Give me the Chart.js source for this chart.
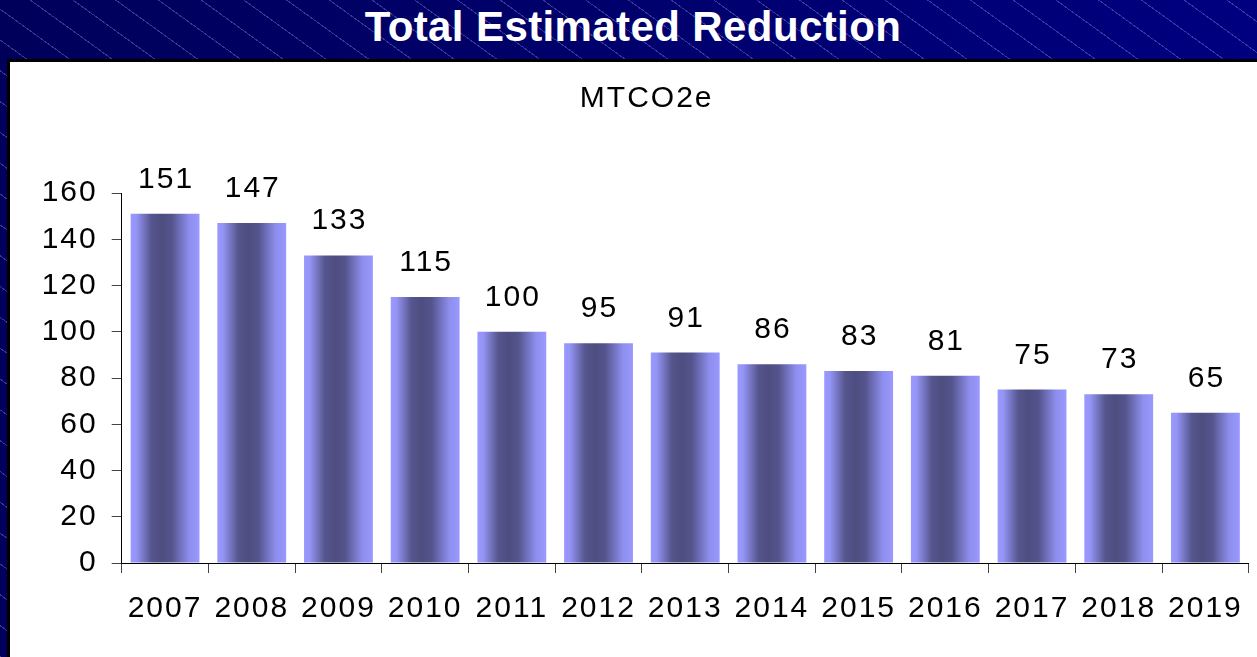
<!DOCTYPE html>
<html>
<head>
<meta charset="utf-8">
<script src="https://cdn.jsdelivr.net/npm/chart.js@4.4.1/dist/chart.umd.min.js"></script>
<style>
  html, body {
    margin: 0;
    padding: 0;
    width: 1257px;
    height: 657px;
    overflow: hidden;
  }
  body {
    position: relative;
    background-color: #000070;
    background-image:
      repeating-linear-gradient(35.8deg, rgba(110, 110, 200, 0.5) 0 1px, transparent 1px 25px),
      linear-gradient(90deg, #00005a, #000080);
    font-family: "Liberation Sans", Arial, sans-serif;
  }
  .main-title {
    position: absolute;
    left: 0;
    top: 4px;
    width: 1266px;
    text-align: center;
    color: #fff;
    font-weight: bold;
    font-size: 42px;
    line-height: 46px;
    letter-spacing: 0.4px;
  }
  .panel {
    position: absolute;
    left: 7px;
    top: 59px;
    width: 1250px;
    height: 598px;
    background: #fff;
    border-left: 3px solid #000;
    border-top: 3px solid #000;
    box-sizing: border-box;
  }
  .panel canvas {
    position: absolute;
    left: 0;
    top: 0;
  }
</style>
</head>
<body>
<div class="main-title">Total Estimated Reduction</div>
<div class="panel">
  <canvas class="reduction-chart" width="1247" height="595"></canvas>
</div>
<script>
const years = ["2007", "2008", "2009", "2010", "2011", "2012", "2013", "2014", "2015", "2016", "2017", "2018", "2019"];
const reduction = [151, 147, 133, 115, 100, 95, 91, 86, 83, 81, 75, 73, 65];
const yMin = 0;
const yMax = 160;
const yStep = 20;

const BAR_PCT = 0.794;
const FONT = '"Liberation Sans", Arial, sans-serif';

// horizontal shading across each bar, like the old office cylinder look
function barFill(ctx) {
  const chart = ctx.chart;
  const xs = chart.scales.x;
  if (!chart.chartArea || !xs) return "#7777cc";
  const cx = xs.getPixelForValue(ctx.dataIndex);
  const w = (xs.width / years.length) * BAR_PCT;
  const g = chart.ctx.createLinearGradient(cx - w / 2, 0, cx + w / 2, 0);
  g.addColorStop(0, "#9999ff");
  g.addColorStop(0.08, "#9595f6");
  g.addColorStop(0.3, "#56568f");
  g.addColorStop(0.45, "#4d4d80");
  g.addColorStop(0.6, "#55558e");
  g.addColorStop(0.85, "#8e8eee");
  g.addColorStop(1, "#9999ff");
  return g;
}

// the slide text is a bit wider than plain Arial, spread it a little
const wideText = {
  id: "wideText",
  beforeDraw(chart) {
    chart.ctx.letterSpacing = "2px";
  },
};

const valueLabels = {
  id: "valueLabels",
  afterDatasetsDraw(chart) {
    const c = chart.ctx;
    const meta = chart.getDatasetMeta(0);
    c.save();
    c.font = "30px " + FONT;
    c.letterSpacing = "2px";
    c.fillStyle = "#000";
    c.textAlign = "center";
    c.textBaseline = "alphabetic";
    meta.data.forEach((bar, i) => {
      c.fillText(String(reduction[i]), bar.x + 1, bar.y - 26);
    });
    c.restore();
  },
};

const reductionElem = document.querySelector(".reduction-chart").getContext("2d");

const config = {
  type: "bar",
  data: {
    labels: years,
    datasets: [
      {
        label: "MTCO2e",
        data: reduction,
        backgroundColor: barFill,
        borderWidth: 0,
        barPercentage: BAR_PCT,
        categoryPercentage: 1,
      },
    ],
  },
  options: {
    responsive: false,
    animation: false,
    layout: {
      padding: { left: 31.7, right: 5.3, top: 0, bottom: 0 },
    },
    scales: {
      x: {
        offset: true,
        grid: {
          drawOnChartArea: false,
          drawTicks: true,
          tickLength: 10,
          tickColor: "#444",
          offset: true,
        },
        border: { color: "#000", width: 1 },
        ticks: {
          color: "#000",
          font: { family: FONT, size: 30 },
          padding: 18,
          maxRotation: 0,
          autoSkip: false,
        },
        afterFit(scale) {
          scale.height = 94;
        },
      },
      y: {
        min: yMin,
        max: yMax,
        grid: {
          drawOnChartArea: false,
          drawTicks: true,
          tickLength: 10,
          tickColor: "#444",
        },
        border: { color: "#000", width: 1 },
        ticks: {
          stepSize: yStep,
          color: "#000",
          font: { family: FONT, size: 30 },
          padding: 14,
        },
        afterFit(scale) {
          scale.width = 80;
        },
      },
    },
    plugins: {
      legend: { display: false },
      tooltip: { enabled: false },
      title: {
        display: true,
        text: "MTCO2e",
        color: "#000",
        font: { family: FONT, size: 30, weight: "normal" },
        padding: { top: 19, bottom: 76 },
      },
    },
  },
  plugins: [wideText, valueLabels],
};

const chartRender = new Chart(reductionElem, config);
</script>
</body>
</html>
